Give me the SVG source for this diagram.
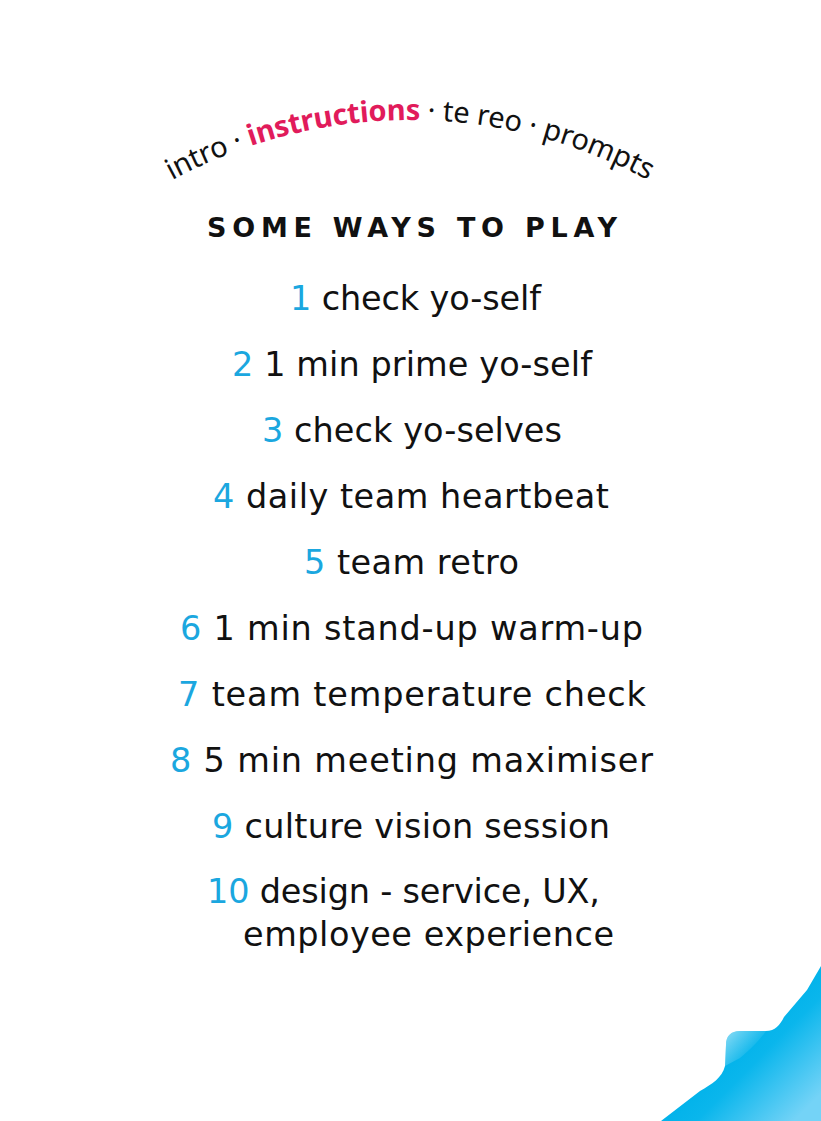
<svg xmlns="http://www.w3.org/2000/svg" width="821" height="1121" viewBox="0 0 821 1121">
  <style>
    .arc { font-family: "Noto Sans", "DejaVu Sans", sans-serif; font-size: 29px; fill: #111111; }
    .arcb { font-weight: 700; fill: #e11b5b; }
    .head { font-family: "DejaVu Sans", "Noto Sans", sans-serif; font-size: 27px; font-weight: 700; fill: #111111; }
    .item { font-family: "DejaVu Sans", "Noto Sans", sans-serif; font-size: 33.5px; fill: #111111; }
    .num { fill: #1ba7df; }
  </style>
  <defs>
    <path id="arcPath" d="M -23 370 A 500 500 0 0 1 843 370"/>
    <linearGradient id="cornerGrad" gradientUnits="userSpaceOnUse" x1="735" y1="1040" x2="805" y2="1110">
      <stop offset="0" stop-color="#00b2ea"/>
      <stop offset="0.3" stop-color="#0ab6ec"/>
      <stop offset="1" stop-color="#74d3f7"/>
    </linearGradient>
    <linearGradient id="tabHi" gradientUnits="userSpaceOnUse" x1="728" y1="1033" x2="752" y2="1055">
      <stop offset="0" stop-color="#ffffff" stop-opacity="0.5"/>
      <stop offset="1" stop-color="#ffffff" stop-opacity="0"/>
    </linearGradient>
  </defs>
  <rect width="821" height="1121" fill="#ffffff"/>

  <g id="arc-title">
    <text class="arc"><textPath href="#arcPath" startOffset="50%" text-anchor="middle" textLength="496" lengthAdjust="spacing">intro · <tspan class="arcb">instructions</tspan> · te reo · prompts</textPath></text>
  </g>

  <g id="heading">
    <text class="head" x="207" y="237" textLength="410" lengthAdjust="spacing">SOME WAYS TO PLAY</text>
  </g>

  <g id="list">
    <text id="item1" class="item" x="290" y="310" textLength="251" lengthAdjust="spacing"><tspan class="num">1</tspan> check yo-self</text>
    <text id="item2" class="item" x="232" y="376" textLength="360" lengthAdjust="spacing"><tspan class="num">2</tspan> 1 min prime yo-self</text>
    <text id="item3" class="item" x="262" y="442" textLength="300" lengthAdjust="spacing"><tspan class="num">3</tspan> check yo-selves</text>
    <text id="item4" class="item" x="213" y="508" textLength="396" lengthAdjust="spacing"><tspan class="num">4</tspan> daily team heartbeat</text>
    <text id="item5" class="item" x="304" y="574" textLength="215" lengthAdjust="spacing"><tspan class="num">5</tspan> team retro</text>
    <text id="item6" class="item" x="180" y="640" textLength="463" lengthAdjust="spacing"><tspan class="num">6</tspan> 1 min stand-up warm-up</text>
    <text id="item7" class="item" x="178" y="706" textLength="468" lengthAdjust="spacing"><tspan class="num">7</tspan> team temperature check</text>
    <text id="item8" class="item" x="170" y="772" textLength="483" lengthAdjust="spacing"><tspan class="num">8</tspan> 5 min meeting maximiser</text>
    <text id="item9" class="item" x="212" y="838" textLength="398" lengthAdjust="spacing"><tspan class="num">9</tspan> culture vision session</text>
    <g id="item10">
      <text class="item" x="207" y="903" textLength="393" lengthAdjust="spacing"><tspan class="num">10</tspan> design - service, UX,</text>
      <text class="item" x="243" y="946" textLength="371" lengthAdjust="spacing">employee experience</text>
    </g>
  </g>

  <g id="corner">
    <path d="M 821 966 L 821 1121 L 661 1121 L 700 1091 C 712 1084 722 1078 725 1066 L 726 1045 C 726 1036 731 1031 740 1031 L 766 1031 C 775 1031 780 1025 784 1017 L 807 990 Z" fill="url(#cornerGrad)"/>
    <path d="M 725 1066 L 726 1045 C 726 1036 731 1031 740 1031 L 766 1031 C 760 1040 750 1050 740 1058 Z" fill="url(#tabHi)"/>
  </g>
</svg>
